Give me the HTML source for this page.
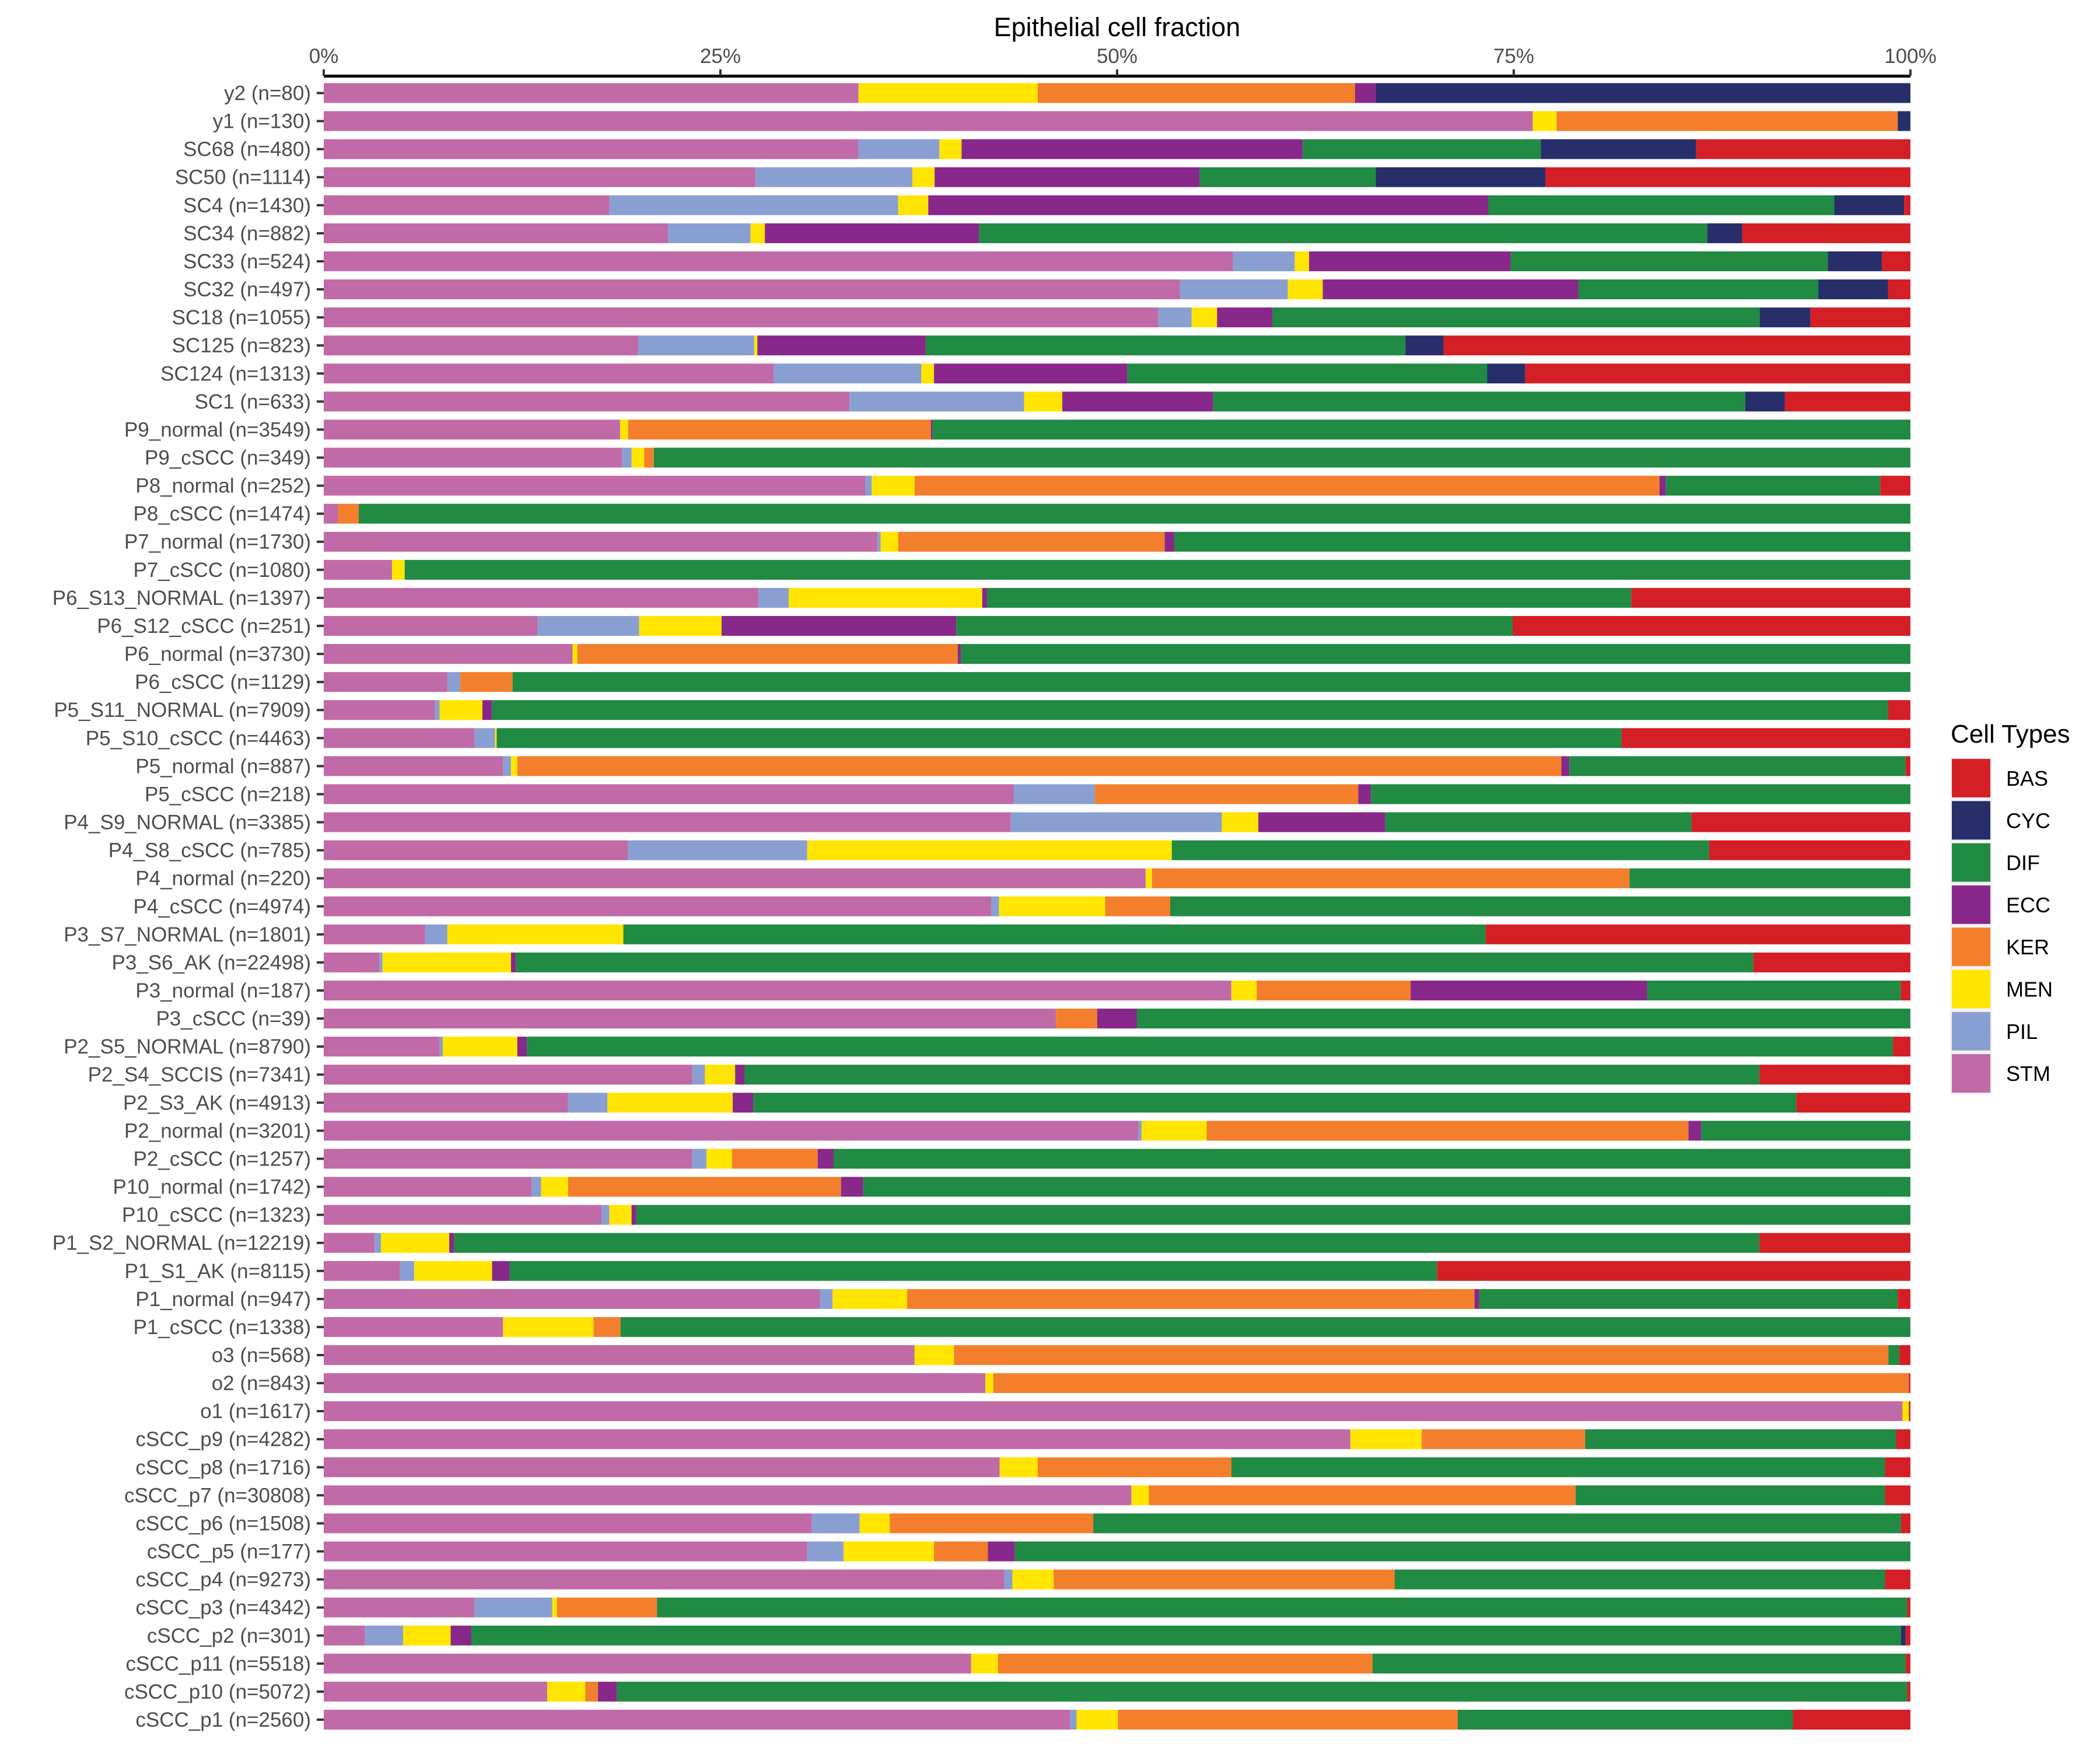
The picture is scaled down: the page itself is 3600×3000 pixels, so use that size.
<!DOCTYPE html>
<html><head><meta charset="utf-8"><style>
html,body{margin:0;padding:0;background:#fff}
svg{display:block}
text{font-family:"Liberation Sans",sans-serif}
</style></head><body>
<svg id="chart" width="3600" height="3000" viewBox="0 0 3600 3000" xmlns="http://www.w3.org/2000/svg"></svg>
<script>
const categories = ["y2 (n=80)","y1 (n=130)","SC68 (n=480)","SC50 (n=1114)","SC4 (n=1430)","SC34 (n=882)","SC33 (n=524)","SC32 (n=497)","SC18 (n=1055)","SC125 (n=823)","SC124 (n=1313)","SC1 (n=633)","P9_normal (n=3549)","P9_cSCC (n=349)","P8_normal (n=252)","P8_cSCC (n=1474)","P7_normal (n=1730)","P7_cSCC (n=1080)","P6_S13_NORMAL (n=1397)","P6_S12_cSCC (n=251)","P6_normal (n=3730)","P6_cSCC (n=1129)","P5_S11_NORMAL (n=7909)","P5_S10_cSCC (n=4463)","P5_normal (n=887)","P5_cSCC (n=218)","P4_S9_NORMAL (n=3385)","P4_S8_cSCC (n=785)","P4_normal (n=220)","P4_cSCC (n=4974)","P3_S7_NORMAL (n=1801)","P3_S6_AK (n=22498)","P3_normal (n=187)","P3_cSCC (n=39)","P2_S5_NORMAL (n=8790)","P2_S4_SCCIS (n=7341)","P2_S3_AK (n=4913)","P2_normal (n=3201)","P2_cSCC (n=1257)","P10_normal (n=1742)","P10_cSCC (n=1323)","P1_S2_NORMAL (n=12219)","P1_S1_AK (n=8115)","P1_normal (n=947)","P1_cSCC (n=1338)","o3 (n=568)","o2 (n=843)","o1 (n=1617)","cSCC_p9 (n=4282)","cSCC_p8 (n=1716)","cSCC_p7 (n=30808)","cSCC_p6 (n=1508)","cSCC_p5 (n=177)","cSCC_p4 (n=9273)","cSCC_p3 (n=4342)","cSCC_p2 (n=301)","cSCC_p11 (n=5518)","cSCC_p10 (n=5072)","cSCC_p1 (n=2560)"];
const seriesNames = ["STM","PIL","MEN","KER","ECC","DIF","CYC","BAS"];
const STM = [33.7,76.2,33.7,27.2,18.0,21.7,57.3,53.9,52.6,19.8,28.4,33.1,18.7,18.8,34.1,0.9,34.9,4.3,27.4,13.5,15.7,7.8,7.0,9.5,11.3,43.5,43.3,19.2,51.8,42.1,6.4,3.5,57.2,46.1,7.3,23.2,15.4,51.4,23.2,13.1,17.5,3.2,4.8,31.3,11.3,37.5,41.7,99.5,64.7,42.6,50.9,30.7,30.5,42.9,9.5,2.6,40.8,14.1,47.0];
const PIL = [0,0,5.1,9.9,18.2,5.2,3.9,6.8,2.1,7.3,9.3,11.0,0,0.6,0.4,0,0.2,0,1.9,6.4,0,0.8,0.3,1.3,0.5,5.1,13.3,11.3,0,0.5,1.4,0.2,0,0,0.2,0.8,2.5,0.2,0.9,0.6,0.5,0.4,0.9,0.8,0,0,0,0,0,0,0,3.0,2.3,0.5,4.9,2.4,0,0,0.4];
const MEN = [11.3,1.5,1.4,1.4,1.9,0.9,0.9,2.2,1.6,0.2,0.8,2.4,0.5,0.8,2.7,0,1.1,0.8,12.2,5.2,0.3,0,2.7,0.1,0.4,0,2.3,23.0,0.4,6.7,11.1,8.1,1.6,0,4.7,1.9,7.9,4.1,1.6,1.7,1.4,4.3,4.9,4.7,5.7,2.5,0.5,0.4,4.5,2.4,1.1,1.9,5.7,2.6,0.3,3.0,1.7,2.4,2.6];
const KER = [20.0,21.5,0,0,0,0,0,0,0,0,0,0,19.1,0.6,46.9,1.3,16.8,0,0,0,24.0,3.3,0,0,65.8,16.6,0,0,30.1,4.1,0,0,9.7,2.6,0,0,0,30.4,5.4,17.2,0,0,0,35.8,1.7,59.3,57.7,0,10.3,12.2,26.9,12.8,3.4,21.5,6.3,0,23.6,0.8,21.4];
const ECC = [1.3,0,21.5,16.7,35.3,13.5,12.7,16.1,3.5,10.6,12.2,9.5,0.1,0,0.4,0,0.6,0,0.3,14.8,0.2,0,0.6,0,0.5,0.8,8.0,0,0,0,0,0.3,14.9,2.5,0.6,0.6,1.3,0.8,1.0,1.4,0.3,0.3,1.1,0.3,0,0,0,0,0,0,0,0,1.7,0,0,1.3,0,1.2,0];
const DIF = [0,0,15.0,11.1,21.8,45.9,20.0,15.1,30.7,30.2,22.7,33.5,61.7,79.2,13.5,97.8,46.4,94.9,40.6,35.1,59.9,88.1,88.0,70.9,21.2,34.0,19.3,33.9,17.7,46.7,54.4,78.0,16.0,48.7,86.1,63.9,65.8,13.2,67.8,66.0,80.3,82.2,58.4,26.4,81.3,0.7,0,0,19.6,41.2,19.5,50.8,56.5,30.9,78.8,90.1,33.6,81.4,21.1];
const CYC = [33.7,0.8,9.8,10.7,4.4,2.2,3.4,4.4,3.2,2.4,2.4,2.5,0,0,0,0,0,0,0,0,0,0,0,0,0,0,0,0,0,0,0,0,0,0,0,0,0,0,0,0,0,0,0,0,0,0,0,0,0,0,0,0,0,0,0,0.3,0,0,0];
const BAS = [0,0,13.5,23.0,0.4,10.6,1.8,1.4,6.3,29.4,24.3,7.9,0,0,1.9,0,0,0,17.6,25.1,0,0,1.4,18.2,0.3,0,13.8,12.7,0,0,26.8,9.9,0.6,0,1.1,9.5,7.2,0,0,0,0,9.5,29.8,0.8,0,0.7,0.1,0.1,0.9,1.6,1.6,0.6,0,1.6,0.2,0.3,0.3,0.2,7.4];
const tickValues = [0,25,50,75,100];
const tickLabels = ["0%","25%","50%","75%","100%"];
const legendOrder = ["BAS","CYC","DIF","ECC","KER","MEN","PIL","STM"];

const colors = {STM:"#c06aa8",PIL:"#8a9fd1",MEN:"#ffe500",KER:"#f37f2c",ECC:"#88288a",DIF:"#218a43",CYC:"#282e6a",BAS:"#d41f26"};
const series = {STM,PIL,MEN,KER,ECC,DIF,CYC,BAS};
const X0=555, X1=3275, YFIRST=159.5, YLAST=2948, BAR_H=34;
const xScale = v => X0 + (v/100)*(X1-X0);
const yScale = i => YFIRST + i*(YLAST-YFIRST)/(categories.length-1);
const NS="http://www.w3.org/2000/svg";
const svg=document.getElementById('chart');
function mk(tag, attrs, parent){const e=document.createElementNS(NS,tag);for(const k in attrs)e.setAttribute(k,attrs[k]);(parent||svg).appendChild(e);return e;}

const title=mk('text',{x:(X0+X1)/2,y:62,'text-anchor':'middle','font-size':45,fill:'#000'});


title.textContent='Epithelial cell fraction';

const barsG=mk('g',{});


categories.forEach((cat,i)=>{
  let total=0; seriesNames.forEach(s=>total+=series[s][i]);
  let cum=0;
  const cy=yScale(i);
  seriesNames.forEach(s=>{
    const v=series[s][i]/total*100;
    if(v>0){
      const r=mk('rect',{x:xScale(cum),y:cy-BAR_H/2,width:xScale(cum+v)-xScale(cum),height:BAR_H,fill:colors[s]},barsG);
      
      
    }
    cum+=v;
  });
  const tk=mk('line',{x1:X0-12,x2:X0,y1:cy,y2:cy,stroke:'#333','stroke-width':4});
  
  
  const lb=mk('text',{x:X0-22,y:cy+12,'text-anchor':'end','font-size':35,fill:'#4d4d4d'});
  
  
  lb.textContent=cat;
});

const ax=mk('line',{x1:X0,x2:X1,y1:130.5,y2:130.5,stroke:'#000','stroke-width':5});


tickValues.forEach((v,j)=>{
  const t=mk('line',{x1:xScale(v),x2:xScale(v),y1:119,y2:130,stroke:'#333','stroke-width':4});
  
  
  const l=mk('text',{x:xScale(v),y:108,'text-anchor':'middle','font-size':35,fill:'#4d4d4d'});
  
  
  l.textContent=tickLabels[j];
});

const lg=mk('g',{});


const lt=mk('text',{x:3344,y:1273,'font-size':44,fill:'#000'},lg);


lt.textContent='Cell Types';
const bg=mk('rect',{x:3343,y:1298,width:72,height:578,fill:'#f2f2f2'},lg);


legendOrder.forEach((s,k)=>{
  const y=1301+k*72.3;
  const r=mk('rect',{x:3346,y:y,width:66,height:66,fill:colors[s]},lg);
  
  
  const t=mk('text',{x:3439,y:y+46,'font-size':36,fill:'#000'},lg);
  
  
  t.textContent=s;
});
</script>
</body></html>
